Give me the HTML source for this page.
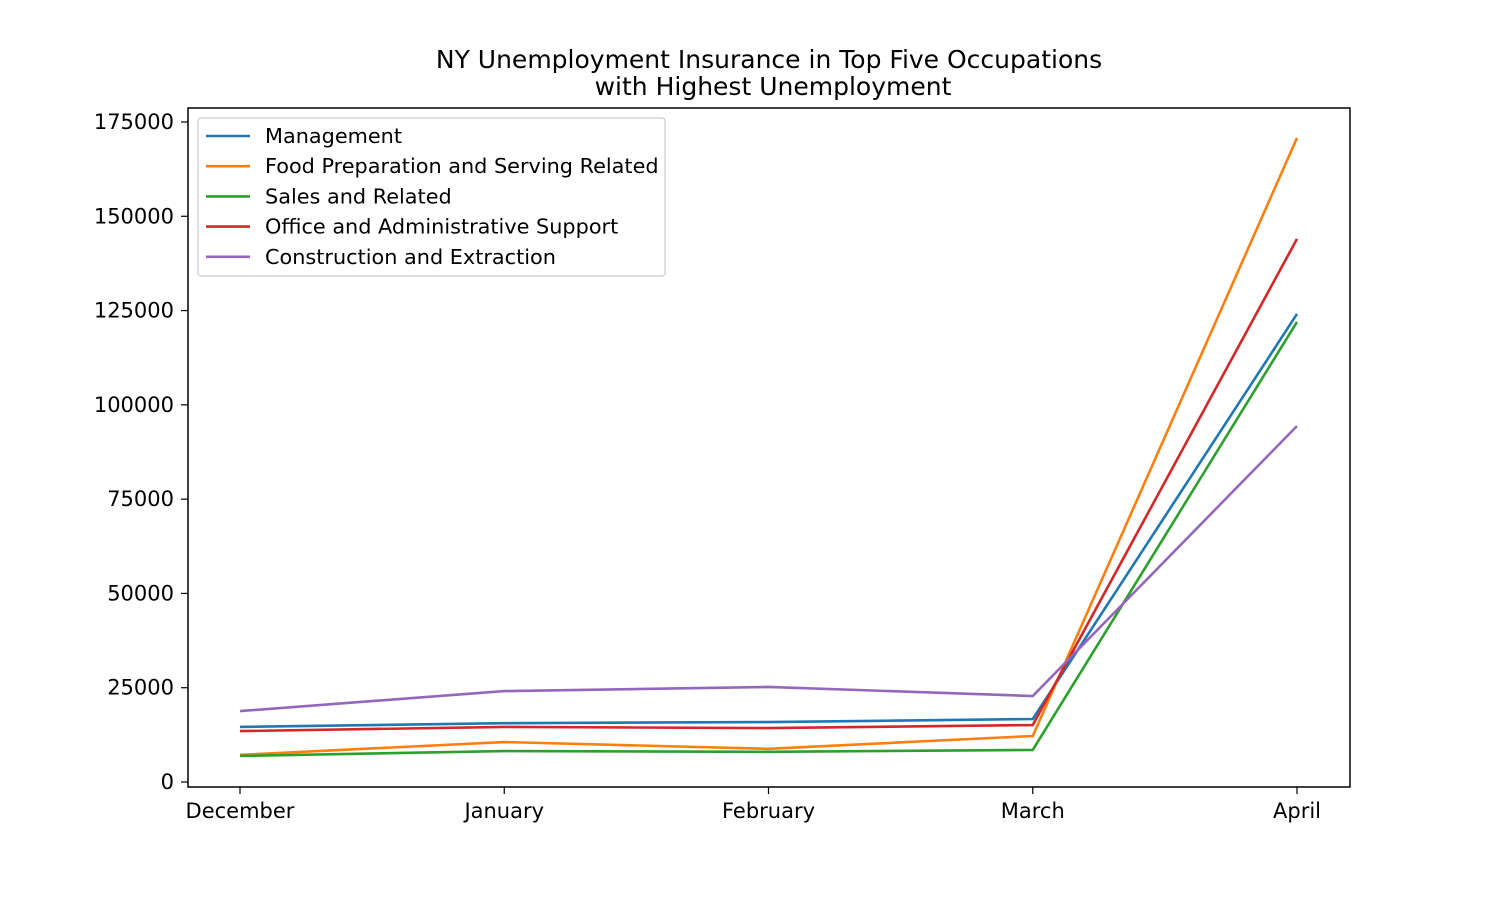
<!DOCTYPE html>
<html><head><meta charset="utf-8"><style>
body{margin:0;background:#fff;font-family:"Liberation Sans","DejaVu Sans",sans-serif;}
svg text{font-family:"DejaVu Sans","Liberation Sans",sans-serif;fill:#000;}
</style></head><body>
<svg id="chart" width="1500" height="900">
<rect width="1500" height="900" fill="#fff"/>
<text x="769" y="68" font-size="25" text-anchor="middle">NY Unemployment Insurance in Top Five Occupations</text>
<text x="773" y="95" font-size="25" text-anchor="middle">with Highest Unemployment</text>
<g id="grid"></g>
<g id="lines"></g>
<rect x="188" y="108" width="1162" height="679" fill="none" stroke="#000" stroke-width="1.5"/>
<g id="legend"></g>
</svg>
<script>
const categories=["December","January","February","March","April"];
const seriesNames=["Management","Food Preparation and Serving Related","Sales and Related","Office and Administrative Support","Construction and Extraction"];
const management=[14600,15600,15900,16700,124100];
const foodPrep=[7200,10600,8800,12200,170800];
const sales=[6900,8200,8000,8500,122000];
const office=[13500,14600,14300,15100,144000];
const construction=[18800,24100,25200,22800,94400];
const yTicks=[0,25000,50000,75000,100000,125000,150000,175000];
const colors=["#1f77b4","#ff7f0e","#2ca02c","#d62728","#9467bd"];
const allSeries=[management,foodPrep,sales,office,construction];
const NS="http://www.w3.org/2000/svg";
const xs=i=>240+i*(1297-240)/(categories.length-1);
const ys=v=>782-v*(660/175000);
function mk(t,a,p){const e=document.createElementNS(NS,t);for(const k in a)e.setAttribute(k,a[k]);p.appendChild(e);return e;}
const g=document.getElementById('grid');
yTicks.forEach(v=>{
 const t=mk('line',{x1:181,x2:188,y1:ys(v),y2:ys(v),stroke:'#000','stroke-width':1.2},g);
 
 
 const l=mk('text',{x:174,y:ys(v)+7,'font-size':21,'text-anchor':'end'},g);l.textContent=v;
 
 
});
categories.forEach((c,i)=>{
 const t=mk('line',{x1:xs(i),x2:xs(i),y1:787,y2:794,stroke:'#000','stroke-width':1.2},g);
 
 
 const l=mk('text',{x:xs(i),y:818,'font-size':21,'text-anchor':'middle'},g);l.textContent=c;
 
 
});
const lg=document.getElementById('lines');
allSeries.forEach((s,k)=>{
 const p=mk('polyline',{points:s.map((v,i)=>xs(i)+','+ys(v)).join(' '),fill:'none',stroke:colors[k],'stroke-width':2.6},lg);
 
 
});
const L=document.getElementById('legend');
const box=mk('rect',{x:198,y:118,width:467,height:158,rx:3,fill:'#fff','fill-opacity':0.8,stroke:'#ccc','stroke-width':1.2},L);


seriesNames.forEach((n,k)=>{
 const y=136+k*30.2;
 const ln=mk('line',{x1:206,x2:250,y1:y,y2:y,stroke:colors[k],'stroke-width':2.6},L);
 
 
 const t=mk('text',{x:265,y:y+7,'font-size':20.8},L);t.textContent=n;
 
 
});
</script>
</body></html>
